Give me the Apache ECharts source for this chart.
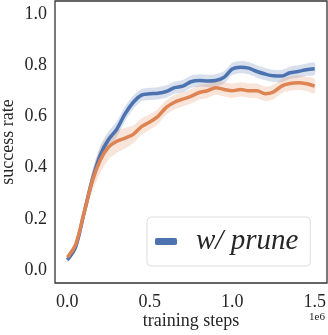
<!DOCTYPE html>
<html>
<head>
<meta charset="utf-8">
<script src="https://cdn.jsdelivr.net/npm/echarts@6/dist/echarts.min.js"></script>
<style>
  html, body { margin: 0; padding: 0; background: #fff; }
  #chart { width: 328px; height: 335px; }
</style>
</head>
<body>
<div id="chart"></div>
<script>
// training steps (in units of 1e6)
const steps = [0.00, 0.05, 0.10, 0.15, 0.20, 0.25, 0.30, 0.35, 0.40, 0.45,
    0.50, 0.55, 0.60, 0.65, 0.70, 0.75, 0.80, 0.85, 0.90, 0.95,
    1.00, 1.05, 1.10, 1.15, 1.20, 1.25, 1.30, 1.35, 1.40, 1.45, 1.50];

const pruneMean = [0.040, 0.090, 0.220, 0.350, 0.450, 0.510, 0.550, 0.610, 0.655, 0.683,
    0.688, 0.690, 0.697, 0.712, 0.718, 0.735, 0.740, 0.738, 0.740, 0.752,
    0.785, 0.792, 0.788, 0.775, 0.765, 0.758, 0.757, 0.770, 0.775, 0.782, 0.786];
const pruneSpread = [0.010, 0.012, 0.020, 0.032, 0.035, 0.032, 0.030, 0.028, 0.026, 0.024,
    0.024, 0.024, 0.024, 0.024, 0.024, 0.024, 0.024, 0.024, 0.024, 0.024,
    0.024, 0.024, 0.024, 0.024, 0.024, 0.024, 0.024, 0.024, 0.024, 0.024, 0.024];

const basicMean = [0.050, 0.100, 0.220, 0.345, 0.430, 0.480, 0.503, 0.515, 0.530, 0.560,
    0.578, 0.600, 0.635, 0.655, 0.667, 0.678, 0.693, 0.700, 0.712, 0.705,
    0.700, 0.705, 0.700, 0.700, 0.688, 0.695, 0.718, 0.728, 0.731, 0.727, 0.718];
const basicSpread = [0.010, 0.012, 0.022, 0.040, 0.050, 0.048, 0.045, 0.040, 0.035, 0.032,
    0.030, 0.030, 0.028, 0.028, 0.028, 0.028, 0.028, 0.028, 0.028, 0.028,
    0.028, 0.028, 0.028, 0.028, 0.028, 0.028, 0.028, 0.028, 0.028, 0.028, 0.028];

const xTicks = [0.0, 0.5, 1.0, 1.5];
const yTicks = [0.0, 0.2, 0.4, 0.6, 0.8, 1.0];

const BLUE = '#4c72b0';
const ORANGE = '#dd8452';
const FONT = 'Liberation Serif';
const TEXT = '#262626';

const pairs = (ys) => steps.map((x, i) => [x, ys[i]]);

/**
 * Draws the shaded band (mean +- spread) as one polygon through the axes.
 */
const bandSeries = (mean, spread, color) => ({
    type: 'custom',
    silent: true,
    data: [0],
    renderItem: (params, api) => {
        const upper = steps.map((x, i) => api.coord([x, mean[i] + spread[i]]));
        const lower = steps.map((x, i) => api.coord([x, mean[i] - spread[i]])).reverse();
        return {
            type: 'polygon',
            shape: { points: upper.concat(lower), smooth: 0.25 },
            style: { fill: color, opacity: 0.22 },
        };
    },
});

const lineSeries = (name, mean, color) => ({
    name: name, type: 'line', data: pairs(mean), smooth: 0.3,
    symbol: 'none', lineStyle: { color: color, width: 3.5 },
    itemStyle: { color: color },
});

const chart = echarts.init(document.getElementById('chart'), null, { renderer: 'canvas' });

chart.setOption({
    animation: false,
    backgroundColor: '#fff',
    grid: {
        left: 55, right: 1, top: 1, bottom: 52,
        outerBoundsMode: 'none',
        containLabel: false,
        show: true, borderColor: '#333', borderWidth: 1.3,
    },
    xAxis: {
        type: 'value', min: -0.075, max: 1.575,
        name: 'training steps', nameLocation: 'middle', nameGap: 29,
        nameMoveOverlap: false,
        nameTextStyle: { fontFamily: FONT, fontSize: 18, color: TEXT },
        axisLine: { show: false },
        axisTick: { show: false },
        splitLine: { show: false },
        axisLabel: {
            customValues: xTicks, margin: 10,
            fontFamily: FONT, fontSize: 18, color: TEXT,
            formatter: (v) => v.toFixed(1),
        },
    },
    yAxis: {
        type: 'value', min: -0.05, max: 1.05,
        name: 'success rate', nameLocation: 'middle', nameGap: 38,
        nameMoveOverlap: false,
        nameTextStyle: { fontFamily: FONT, fontSize: 18, color: TEXT },
        axisLine: { show: false },
        axisTick: { show: false },
        splitLine: { show: false },
        axisLabel: {
            customValues: yTicks, margin: 8,
            fontFamily: FONT, fontSize: 18, color: TEXT,
            formatter: (v) => v.toFixed(1),
        },
    },
    legend: {
        data: ['w/ prune'],
        left: 147, top: 217,
        padding: [10, 12, 10, 8],
        backgroundColor: '#fff',
        borderColor: '#ddd', borderWidth: 1, borderRadius: 4,
        icon: 'roundRect',
        itemWidth: 22, itemHeight: 7,
        textStyle: {
            fontFamily: FONT, fontStyle: 'italic', fontSize: 29, color: TEXT,
            padding: [0, 0, 0, 14],
        },
    },
    graphic: [{
        type: 'text', left: 309, top: 312,
        style: { text: '1e6', font: '11px "Liberation Serif"', fill: TEXT },
    }],
    series: [
        bandSeries(pruneMean, pruneSpread, BLUE),
        lineSeries('w/ prune', pruneMean, BLUE),
        bandSeries(basicMean, basicSpread, ORANGE),
        lineSeries('w/o prune', basicMean, ORANGE),
    ],
});
</script>
</body>
</html>
